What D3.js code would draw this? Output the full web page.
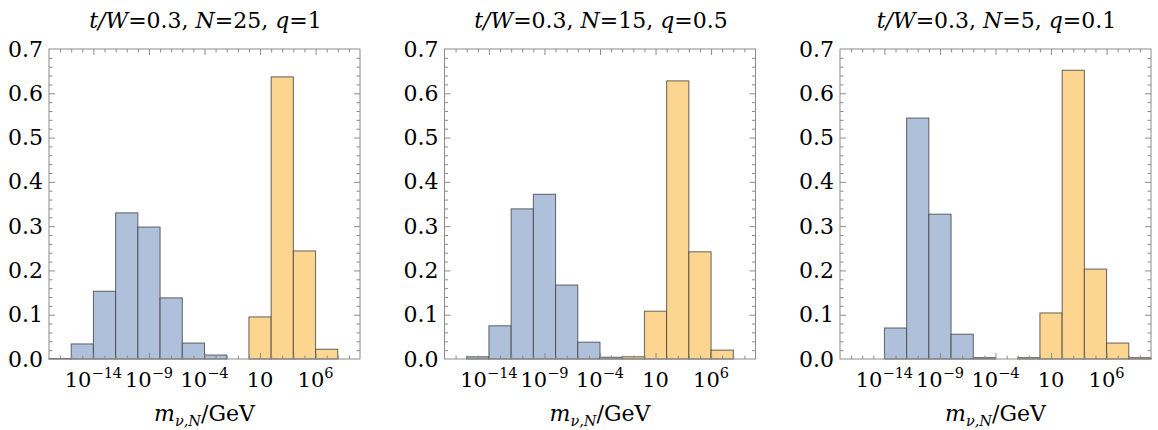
<!DOCTYPE html>
<html>
<head>
<meta charset="utf-8">
<script src="https://cdn.jsdelivr.net/npm/d3@7"></script>
<style>
  body { margin: 0; background: #fff; }
  text { font-family: "DejaVu Serif", serif; fill: #000; }
</style>
</head>
<body>
<svg id="chart" width="1158" height="430"></svg>
<script>
// log10 bin edges of m / GeV
var binEdges = [-18, -16, -14, -12, -10, -8, -6, -4, -2, 0, 2, 4, 6, 8, 10];

var panelN = [25, 15, 5];
var panelQ = ["1", "0.5", "0.1"];
var tOverW = "0.3";

// light neutrinos (blue) and heavy neutrinos (orange), fraction per bin
var nuValues1 = [0.001, 0.034, 0.153, 0.330, 0.298, 0.138, 0.036, 0.009, 0, 0, 0, 0, 0, 0];
var heavyValues1 = [0, 0, 0, 0, 0, 0, 0, 0, 0, 0.095, 0.637, 0.244, 0.022, 0];

var nuValues2 = [0, 0.005, 0.075, 0.339, 0.372, 0.167, 0.038, 0.004, 0, 0, 0, 0, 0, 0];
var heavyValues2 = [0, 0, 0, 0, 0, 0, 0, 0, 0.005, 0.108, 0.628, 0.242, 0.020, 0];

var nuValues3 = [0, 0, 0.070, 0.544, 0.327, 0.056, 0.003, 0, 0, 0, 0, 0, 0, 0];
var heavyValues3 = [0, 0, 0, 0, 0, 0, 0, 0, 0.003, 0.104, 0.652, 0.203, 0.036, 0.003];

var xMajorTicks = [-14, -9, -4, 1, 6];
var xTickLabels = [["10", "\u221214"], ["10", "\u22129"], ["10", "\u22124"], ["10", ""], ["10", "6"]];
var yMajorTicks = [0, 0.1, 0.2, 0.3, 0.4, 0.5, 0.6, 0.7];
var yTickLabels = ["0.0", "0.1", "0.2", "0.3", "0.4", "0.5", "0.6", "0.7"];

var panels = [
  { nu: nuValues1, heavy: heavyValues1 },
  { nu: nuValues2, heavy: heavyValues2 },
  { nu: nuValues3, heavy: heavyValues3 }
];

var frameLeft = [49, 444.5, 840];
var frameW = 311;
var frameTop = 49;
var frameBottom = 359;

var blueFill = "#afc0db";
var orangeFill = "#fcd590";
var edgeColor = "#404040";
var frameColor = "#8c8c8c";

var svg = d3.select("#chart");

function minorRange(a, b, step) {
  var out = [];
  for (var v = a; v <= b + 1e-9; v += step) out.push(+v.toFixed(4));
  return out;
}

panels.forEach(function(p, i) {
  var left = frameLeft[i];
  var x = d3.scaleLinear().domain([-18, 10]).range([left, left + frameW]);
  var y = d3.scaleLinear().domain([0, 0.7]).range([frameBottom, frameTop]);
  var g = svg.append("g");

  // bars
  function drawBars(values, fill) {
    var data = values.map(function(v, k) {
      return { x0: binEdges[k], x1: binEdges[k + 1], v: v };
    }).filter(function(d) { return d.v > 0; });
    g.append("g").selectAll("rect")
      .data(data)
      .enter().append("rect")
      .attr("x", function(d) { return x(d.x0); })
      .attr("y", function(d) { return y(d.v); })
      .attr("width", function(d) { return x(d.x1) - x(d.x0); })
      .attr("height", function(d) { return y(0) - y(d.v); })
      .style("fill", fill)
      .style("stroke", edgeColor)
      .style("stroke-opacity", 0.8)
      .style("stroke-width", 1);
  }
  drawBars(p.nu, blueFill);
  drawBars(p.heavy, orangeFill);

  // frame
  g.append("rect")
    .attr("x", left).attr("y", frameTop)
    .attr("width", frameW).attr("height", frameBottom - frameTop)
    .style("fill", "none").style("stroke", frameColor).style("stroke-width", 1);

  var xMinor = minorRange(-17, 9, 1).filter(function(v) { return xMajorTicks.indexOf(v) < 0; });
  var yMinor = minorRange(0.02, 0.68, 0.02).filter(function(v) {
    return Math.abs(v * 10 - Math.round(v * 10)) > 1e-6;
  });

  function axis(gen, ticks, size, transform) {
    var a = g.append("g").attr("transform", transform)
      .call(gen.tickValues(ticks).tickSize(size).tickFormat(""));
    a.select(".domain").remove();
    a.selectAll("line").attr("stroke", frameColor);
  }
  axis(d3.axisBottom(x), xMajorTicks, -6, "translate(0," + frameBottom + ")");
  axis(d3.axisBottom(x), xMinor, -3.5, "translate(0," + frameBottom + ")");
  axis(d3.axisTop(x), xMajorTicks, -6, "translate(0," + frameTop + ")");
  axis(d3.axisTop(x), xMinor, -3.5, "translate(0," + frameTop + ")");
  axis(d3.axisLeft(y), yMajorTicks.slice(1, -1), -6, "translate(" + left + ",0)");
  axis(d3.axisLeft(y), yMinor, -3.5, "translate(" + left + ",0)");
  axis(d3.axisRight(y), yMajorTicks.slice(1, -1), -6, "translate(" + (left + frameW) + ",0)");
  axis(d3.axisRight(y), yMinor, -3.5, "translate(" + (left + frameW) + ",0)");

  // y labels
  g.selectAll(".ylab").data(yMajorTicks).enter().append("text")
    .attr("x", left - 6)
    .attr("y", function(d) { return y(d) + 7.5; })
    .attr("text-anchor", "end")
    .attr("font-size", 22)
    .text(function(d, k) { return yTickLabels[k]; });

  // x labels
  xMajorTicks.forEach(function(t, k) {
    var lab = xTickLabels[k];
    var tx = g.append("text")
      .attr("x", x(t)).attr("y", 387)
      .attr("text-anchor", "middle")
      .attr("font-size", 21);
    tx.append("tspan").text(lab[0]);
    if (lab[1]) {
      tx.append("tspan").attr("dy", -9).attr("font-size", 14.5).text(lab[1]);
    }
  });

  // x axis title
  var xt = g.append("text")
    .attr("x", left + frameW / 2).attr("y", 421)
    .attr("text-anchor", "middle")
    .attr("font-size", 22);
  xt.append("tspan").attr("font-style", "italic").text("m");
  xt.append("tspan").attr("font-style", "italic").attr("font-size", 14.5).attr("dy", 5).text("\u03bd,N");
  xt.append("tspan").attr("dy", -5).text("/GeV");

  // panel title
  var tt = g.append("text")
    .attr("x", left + frameW / 2 + 1).attr("y", 28)
    .attr("text-anchor", "middle")
    .attr("font-size", 22);
  tt.append("tspan").attr("font-style", "italic").text("t/W");
  tt.append("tspan").text("=" + tOverW + ", ");
  tt.append("tspan").attr("font-style", "italic").text("N");
  tt.append("tspan").text("=" + panelN[i] + ", ");
  tt.append("tspan").attr("font-style", "italic").text("q");
  tt.append("tspan").text("=" + panelQ[i]);
});
</script>
</body>
</html>
